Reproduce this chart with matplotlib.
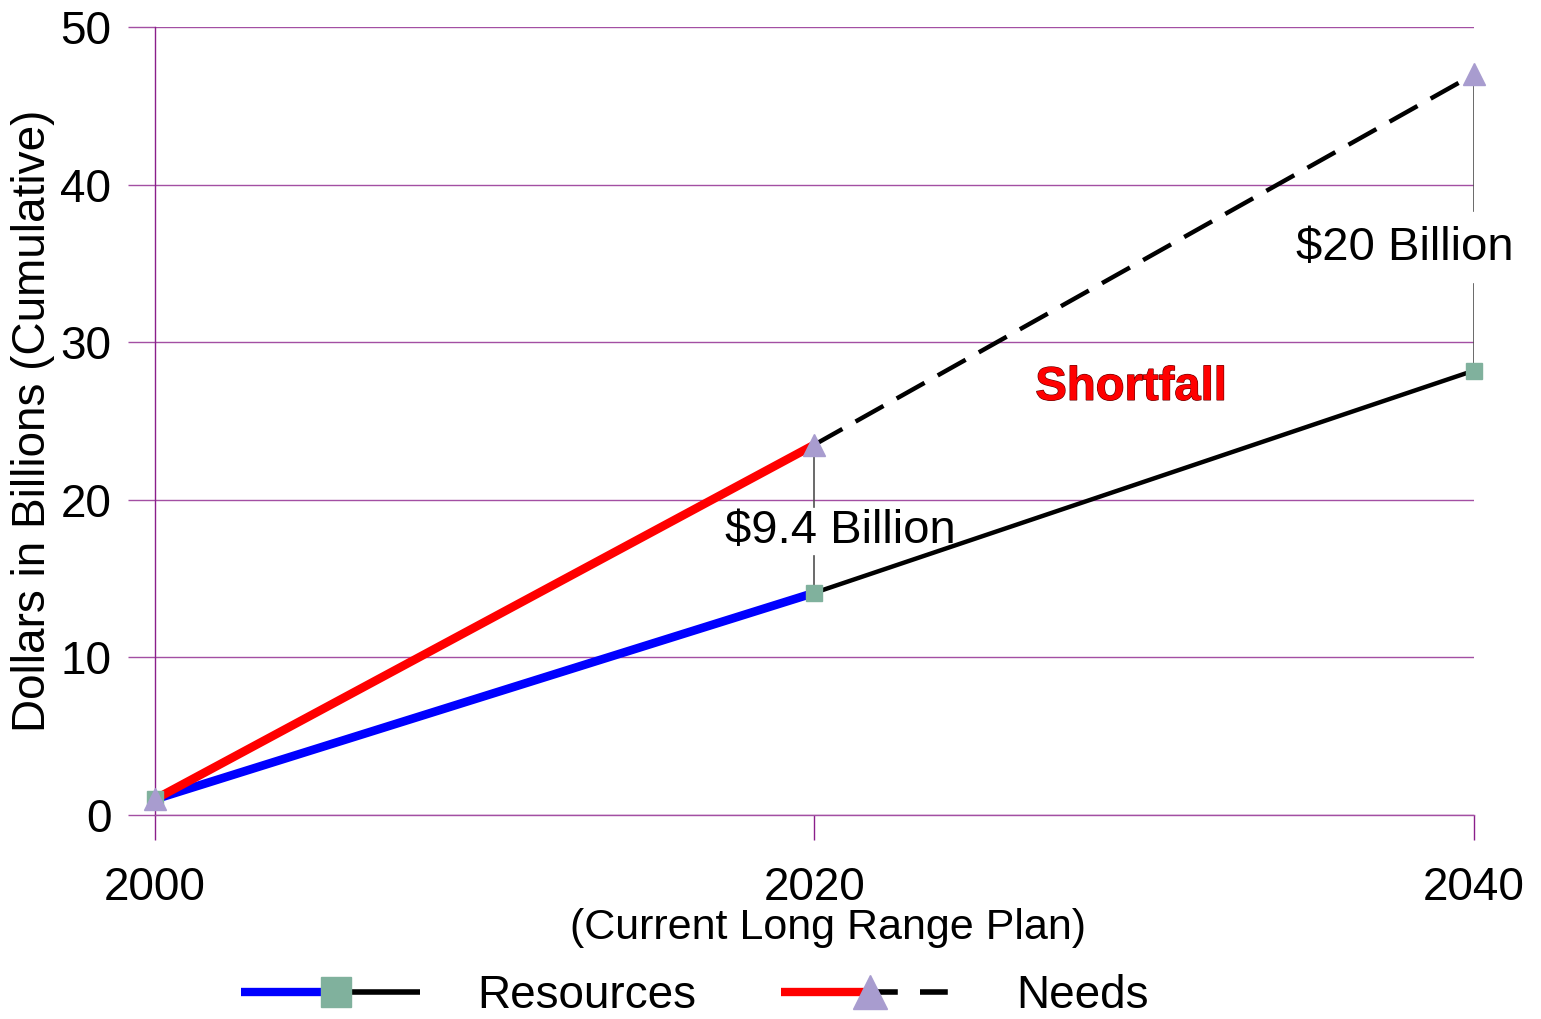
import matplotlib
matplotlib.use("Agg")
import matplotlib.pyplot as plt
import matplotlib.patheffects as pe
from matplotlib.lines import Line2D
from matplotlib.legend_handler import HandlerBase

plt.rcParams['font.family'] = ['Liberation Sans', 'DejaVu Sans']

# Cumulative dollars (billions)
years = [2000, 2020, 2040]
resources = [1.0, 14.1, 28.2]
needs = [1.0, 23.5, 47.0]
year_labels = ['2000', '2020', '2040']
y_ticks = [0, 10, 20, 30, 40, 50]

GRID = '#a34fa3'
AXIS = '#8a1f8a'
SQ_COLOR = '#80b19d'
TRI_COLOR = '#a89ccf'
FS = 33

fig = plt.figure(figsize=(15.41, 10.19), dpi=100)
ax = fig.add_axes([0.1006, 0.2002, 0.8559, 0.7733])

ax.set_xlim(years[0], years[-1])
ax.set_ylim(0, 50)

# Horizontal grid and axis styling
ax.set_yticks(y_ticks)
ax.set_xticks(years)
ax.set_xticklabels(year_labels)
ax.yaxis.grid(True, color=GRID, lw=1.0)
ax.set_axisbelow(True)
for s in ['top', 'right']:
    ax.spines[s].set_visible(False)
ax.spines['left'].set_color(AXIS)
ax.spines['bottom'].set_color(GRID)
ax.spines['left'].set_linewidth(1.0)
ax.spines['bottom'].set_linewidth(1.0)
ax.tick_params(axis='y', direction='out', length=19.5, width=1.0, color=GRID,
               labelsize=FS, pad=12)
ax.tick_params(axis='x', direction='out', length=18, width=1.0, color=AXIS,
               labelsize=FS, pad=19)

# Resources: black across, blue over the plan period
ax.plot(years, resources, color='black', lw=3.2, solid_capstyle='butt', zorder=3)
ax.plot(years[:2], resources[:2], color='blue', lw=6.2, solid_capstyle='butt', zorder=4)

# Needs: red over the plan period, dashed beyond
ax.plot(years[:2], needs[:2], color='black', lw=3.2, solid_capstyle='butt', zorder=3)
ax.plot(years[:2], needs[:2], color='red', lw=6.2, solid_capstyle='butt', zorder=4)
ax.plot(years[1:], needs[1:], color='black', lw=3.2, dashes=(7.2, 3.4), zorder=3)

ax.plot(years, resources, ls='none', marker='s', ms=11, color=SQ_COLOR,
        zorder=6, clip_on=False)
ax.plot(years, needs, ls='none', marker='^', ms=16, color=TRI_COLOR,
        zorder=7, clip_on=False)

# Gap annotations
gaps = [(1, '$9.4 Billion', 2020.8, 18.0, 1.55), (2, '$20 Billion', 2037.9, 36.0, 2.3)]
for i, label, tx, ty, half in gaps:
    x = years[i]
    ax.plot([x, x], [needs[i], ty + half], color='#505050', lw=1.2, zorder=5)
    ax.plot([x, x], [ty - half, resources[i]], color='#505050', lw=1.2, zorder=5)
    ax.text(tx, ty, label, fontsize=34, ha='center', va='center', zorder=8)

ax.text(2029.6, 27.1, 'Shortfall', fontsize=34, fontweight='bold', color='red',
        ha='center', va='center',
        path_effects=[pe.withStroke(linewidth=0.9, foreground='#6a0000')])

ax.set_ylabel('Dollars in Billions (Cumulative)', fontsize=FS, labelpad=4)
fig.text(0.5375, 0.089, '(Current Long Range Plan)', fontsize=31,
         ha='center', va='center')


class SplitHandler(HandlerBase):
    def __init__(self, left_color, dashed, marker, mcolor, ms, frac):
        super().__init__()
        self.left_color = left_color
        self.dashed = dashed
        self.marker = marker
        self.mcolor = mcolor
        self.ms = ms
        self.frac = frac

    def create_artists(self, legend, orig_handle, xdescent, ydescent,
                       width, height, fontsize, trans):
        y = height / 2 - ydescent
        x0 = -xdescent
        x1 = width - xdescent
        xm = x0 + (x1 - x0) * self.frac
        left = Line2D([x0, xm], [y, y], color=self.left_color, lw=6,
                      solid_capstyle='butt')
        kw = dict(dashes=(5, 4)) if self.dashed else {}
        right = Line2D([xm, x1], [y, y], color='black', lw=4,
                       solid_capstyle='butt', **kw)
        mk = Line2D([xm], [y], ls='none', marker=self.marker, ms=self.ms,
                    color=self.mcolor)
        arts = [left, right, mk]
        for a in arts:
            a.set_transform(trans)
        return arts


h_res = Line2D([], [])
h_need = Line2D([], [])
fig.legend([h_res, h_need], ['Resources', 'Needs'], ncol=2, frameon=False,
           loc='center', bbox_to_anchor=(0.451, 0.023), fontsize=FS,
           handlelength=3.9, handletextpad=1.25, columnspacing=1.85,
           borderpad=0.1,
           handler_map={h_res: SplitHandler('blue', False, 's', SQ_COLOR, 22, 0.53),
                        h_need: SplitHandler('red', True, '^', TRI_COLOR, 24, 0.5)})

fig.savefig('out.png', dpi=100)
